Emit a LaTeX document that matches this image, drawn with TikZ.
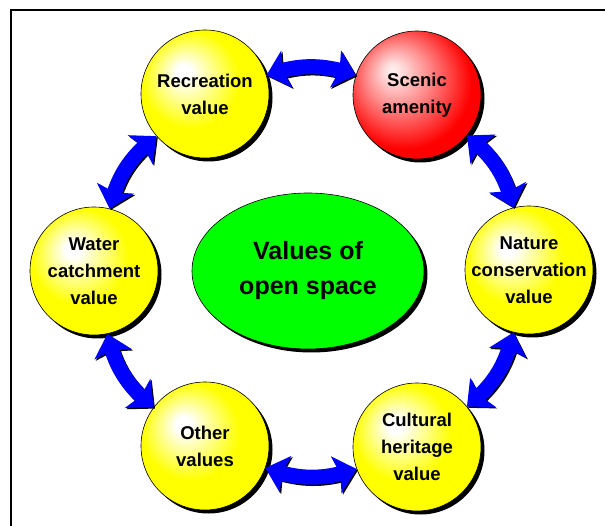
\documentclass[tikz,border=0pt]{standalone}
\usepackage{fontspec}
\setmainfont{Liberation Sans}
\usetikzlibrary{shapes.geometric,arrows.meta,bending}

\pgfdeclareradialshading{yball}{\pgfpoint{-9bp}{9bp}}{color(0bp)=(white); color(3bp)=(white); color(19bp)=(yellow); color(50bp)=(yellow)}
\pgfdeclareradialshading{rball}{\pgfpoint{-10bp}{10bp}}{color(0bp)=(red!6); color(3bp)=(red!12); color(12bp)=(red!45); color(26bp)=(red); color(50bp)=(red)}

\newcommand\blockarrow[2]{%
  \draw[arrowshade] (#1) to[bend left=19] (#2);
  \draw[arrowbody] (#1) to[bend left=19] (#2);}

\begin{document}
\begin{tikzpicture}[x=1pt,y=1pt,
  dropshade/.style={preaction={fill=black, transform canvas={shift={(3.5pt,-3.5pt)}}}},
  valnode/.style={circle, minimum size=128pt, inner sep=0pt, draw=black, line width=0.6pt, dropshade, shade},
  yel/.style={valnode, shading=yball},
  redn/.style={valnode, shading=rball},
  lbl/.style={align=center, inner sep=0pt, font=\bfseries\fontsize{18.5}{27}\selectfont},
  core/.style={ellipse, minimum width=232pt, minimum height=156pt, inner sep=0pt, draw=black, line width=0.6pt, fill=green, dropshade, align=center, font=\bfseries\fontsize{25}{35}\selectfont},
  arrowbody/.style={line width=15pt, draw=blue, {Stealth[length=21pt,width=38pt,inset=4pt]}-{Stealth[length=21pt,width=38pt,inset=4pt]}},
  arrowshade/.style={arrowbody, draw=black, transform canvas={shift={(1.3pt,-1.3pt)}}}
]
\useasboundingbox (0,0) rectangle (605,-526);
\fill[white] (0,0) rectangle (605,-526);
\draw[line width=2pt] (10.5,-530) -- (10.5,-10.5) -- (610,-10.5);

\node[core] (centre) at (308,-271) {Values of\\open space};

\node[yel]  (rec) at (205,-94)  {};
\node[redn] (sce) at (417,-95)  {};
\node[yel]  (wat) at (94,-271)  {};
\node[yel]  (nat) at (529,-270) {};
\node[yel]  (oth) at (205,-446) {};
\node[yel]  (cul) at (417,-447) {};

\node[lbl] (rect) at (rec) {Recreation\\value};
\node[lbl] (scet) at (sce) {Scenic\\amenity};
\node[lbl] (watt) at (wat) {Water\\catchment\\value};
\node[lbl] (natt) at (nat) {Nature\\conservation\\value};
\node[lbl] (otht) at (oth) {Other\\values};
\node[lbl] (cult) at (cul) {Cultural\\heritage\\value};

\blockarrow{rec.17}{sce.162}
\blockarrow{sce.-39}{nat.104}
\blockarrow{nat.-104}{cul.39}
\blockarrow{cul.200}{oth.-20}
\blockarrow{oth.143}{wat.-78}
\blockarrow{wat.76}{rec.221}
\end{tikzpicture}
\end{document}
